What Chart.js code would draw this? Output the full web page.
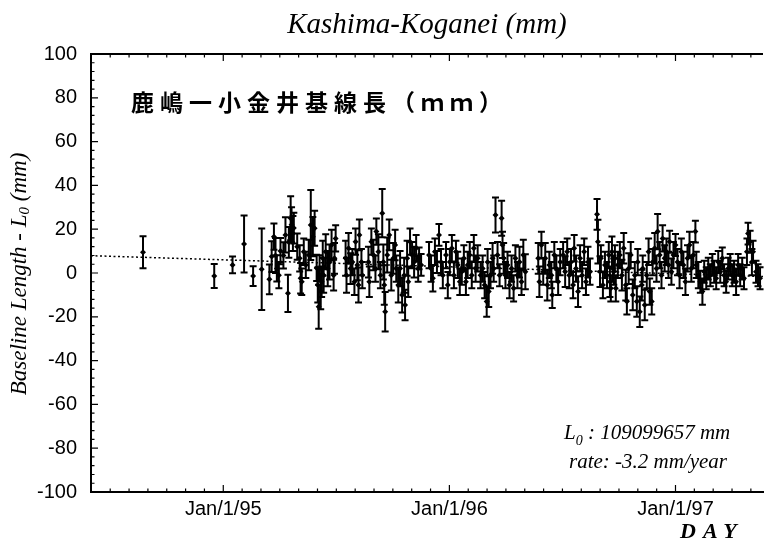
<!DOCTYPE html>
<html>
<head>
<meta charset="utf-8">
<script src="https://cdn.jsdelivr.net/npm/chart.js@4.4.1/dist/chart.umd.min.js"></script>
<style>
  html, body { margin: 0; padding: 0; background: #fff; }
  canvas { display: block; }
</style>
</head>
<body>
<canvas id="grafico" width="767" height="544"></canvas>
<script>
// observation epochs (decimal year), baseline length - L0 (mm), 1-sigma error (mm)
const obsYear = [
  1994.645, 1994.960, 1995.041, 1995.092, 1995.132, 1995.170, 1995.204, 1995.214, 1995.224, 1995.231,
  1995.237, 1995.246, 1995.253, 1995.266, 1995.275, 1995.286, 1995.290, 1995.298, 1995.302, 1995.308,
  1995.312, 1995.327, 1995.338, 1995.342, 1995.347, 1995.356, 1995.365, 1995.378, 1995.387, 1995.396,
  1995.404, 1995.413, 1995.418, 1995.422, 1995.426, 1995.431, 1995.435, 1995.440, 1995.444, 1995.453,
  1995.462, 1995.470, 1995.479, 1995.488, 1995.492, 1995.497, 1995.541, 1995.545, 1995.554, 1995.563,
  1995.571, 1995.580, 1995.585, 1995.593, 1995.598, 1995.602, 1995.611, 1995.615, 1995.642, 1995.646,
  1995.655, 1995.664, 1995.673, 1995.677, 1995.686, 1995.695, 1995.703, 1995.708, 1995.712, 1995.716,
  1995.725, 1995.734, 1995.743, 1995.752, 1995.760, 1995.765, 1995.774, 1995.782, 1995.791, 1995.800,
  1995.804, 1995.813, 1995.818, 1995.826, 1995.835, 1995.844, 1995.853, 1995.862, 1995.866, 1995.875,
  1995.910, 1995.919, 1995.927, 1995.936, 1995.945, 1995.954, 1995.963, 1995.971, 1995.985, 1995.993,
  1996.002, 1996.011, 1996.020, 1996.029, 1996.037, 1996.046, 1996.055, 1996.064, 1996.073, 1996.081,
  1996.090, 1996.099, 1996.108, 1996.116, 1996.125, 1996.138, 1996.147, 1996.156, 1996.165, 1996.169,
  1996.174, 1996.182, 1996.191, 1996.196, 1996.204, 1996.213, 1996.222, 1996.231, 1996.235, 1996.240,
  1996.248, 1996.257, 1996.266, 1996.275, 1996.284, 1996.292, 1996.301, 1996.310, 1996.319, 1996.327,
  1996.336, 1996.393, 1996.398, 1996.407, 1996.415, 1996.424, 1996.433, 1996.442, 1996.451, 1996.455,
  1996.464, 1996.473, 1996.481, 1996.490, 1996.503, 1996.512, 1996.521, 1996.530, 1996.538, 1996.547,
  1996.552, 1996.560, 1996.569, 1996.578, 1996.587, 1996.596, 1996.604, 1996.613, 1996.622, 1996.653,
  1996.657, 1996.666, 1996.670, 1996.679, 1996.688, 1996.697, 1996.705, 1996.710, 1996.714, 1996.719,
  1996.723, 1996.727, 1996.732, 1996.736, 1996.745, 1996.754, 1996.763, 1996.771, 1996.780, 1996.785,
  1996.793, 1996.802, 1996.811, 1996.820, 1996.829, 1996.833, 1996.842, 1996.851, 1996.855, 1996.864,
  1996.873, 1996.881, 1996.886, 1996.895, 1996.899, 1996.908, 1996.916, 1996.921, 1996.930, 1996.938,
  1996.943, 1996.952, 1996.960, 1996.969, 1996.974, 1996.982, 1996.991, 1997.000, 1997.009, 1997.018,
  1997.026, 1997.035, 1997.044, 1997.053, 1997.062, 1997.070, 1997.079, 1997.088, 1997.092, 1997.101,
  1997.110, 1997.119, 1997.127, 1997.136, 1997.145, 1997.154, 1997.163, 1997.171, 1997.180, 1997.189,
  1997.198, 1997.207, 1997.215, 1997.224, 1997.233, 1997.242, 1997.251, 1997.259, 1997.268, 1997.277,
  1997.286, 1997.295, 1997.303, 1997.316, 1997.321, 1997.330, 1997.338, 1997.343, 1997.356, 1997.365,
  1997.374
];
const obsValue = [
  9.5, -1.4, 3.7, 13.2, -1.4, 1.7, -2.9, 7.5, 16.6, 8,
  2.1, -1, 10, 8, 17.4, -9.3, 14, 25, 22, 18,
  20.5, 12, 6.7, -2.4, -4, 9.7, 3.7, 8.2, 21.9, 16.6,
  20.4, 2.3, -5.5, -15.4, 2.1, -8.5, -4, 6.7, -1, 9.7,
  2, 5, 12.8, -1, 6.7, 15.8, 6.7, -1, 11.3, 2,
  5, -4, 14.3, 3.7, -5.5, 17.4, 5, -1, 5, -4,
  14.3, 8.2, 2, 18.9, 9.7, -1, 27.3, 5, -5.5, -17.7,
  8.2, 17.4, -1, 6.7, 12.8, 2, -5.5, 2, -10, -1,
  -14.6, 6.7, -4, 14.3, 8.2, 5, 11.3, 2, 6.7, 3.7,
  8.2, 2, -2.4, 9.7, 5, 17.4, 5, -1, 8.2, -5.5,
  5, 11.3, -1, 9.7, 3.7, -4, 0.6, 6.7, -4, 3.7,
  8.2, -1, 11.3, 2, 6.7, -1, 2, -5.5, -13, 5,
  -8.5, -1, 6.7, 2, 26.5, 8.2, -1, 25, 12.8, 6.7,
  -1, 3.7, -5.5, 2, -7, 6.7, -1, 5, -4, 8.2,
  0.6, 6.7, -4, 12.8, 0.6, 6.7, -5.5, 3.7, -1, -10,
  8.2, 2, -4, 5, 8.2, 0.6, 9.7, -1, 5, -5.5,
  11.3, 2, -8.5, 6.7, -1, 9.7, -4, 5, 0.6, 26.8,
  14.3, 0.6, 6.7, -5.5, 3.7, -1, 8.2, -4, -7, 9.7,
  2, 0.6, 6.7, -7, 3.7, 8.2, -1, 11.3, -5.5, -13,
  2, 8.2, -10, -1, -13, 5, -17.7, -5.5, 2, -14.6,
  -1, 9.7, -8.5, -13, 5, 11.3, 2, 18.9, 8.2, -1,
  15.8, 6.7, 9.7, 3.7, 14.3, 0.6, 8.2, 12.8, 5, -1,
  9.7, 3.7, -4, 6.7, 12.8, 2, 8.2, 18.9, 3.7, -1,
  -4, -8.5, 0.6, -2.4, 2, -1, 3.7, 0.6, -2.4, 5,
  0.6, 6.7, -1, -4, 2, 3.7, -1, 0.6, -4, 3.7,
  -1, 2, -2.4, 9.7, 18, 14.3, 5, 9.7, 0.6, -1,
  -2.4
];
const obsError = [
  7.3, 5.5, 3.8, 13, 4.5, 18.6, 6.8, 7, 6, 8,
  6, 6, 6, 6, 8, 8.5, 7, 10, 8, 8,
  7, 6, 6, 7, 6, 6, 6, 7, 16, 9,
  8, 6, 8, 10, 6, 8, 7, 8, 8, 8,
  8, 8, 7, 7, 7, 6, 8, 8, 7, 7,
  6, 6, 6, 7, 8, 7, 6, 6, 7, 7,
  6, 7, 6, 6, 8, 6, 11, 8, 9, 9,
  8, 7, 7, 7, 7, 6, 8, 8, 8, 8,
  7, 8, 7, 6, 6, 7, 6, 6, 5, 5,
  6, 6, 6, 6, 5, 5, 6, 6, 6, 6,
  6, 6, 6, 5, 6, 6, 6, 6, 6, 6,
  6, 6, 6, 6, 6, 6, 6, 6, 7, 6,
  7, 6, 7, 6, 8, 6, 5, 8, 6, 7,
  6, 6, 6, 6, 6, 6, 6, 7, 6, 7,
  8, 7, 7, 6, 6, 7, 7, 6, 6, 6,
  6, 6, 6, 6, 6, 7, 6, 6, 6, 6,
  6, 6, 7, 6, 6, 6, 6, 7, 6, 7,
  10, 7, 6, 6, 6, 6, 6, 7, 6, 7,
  6, 6, 6, 6, 6, 6, 7, 7, 7, 6,
  7, 6, 7, 6, 7, 6, 7, 7, 6, 7,
  6, 6, 6, 6, 6, 7, 6, 8, 6, 6,
  6, 6, 6, 6, 5, 6, 6, 5, 6, 6,
  6, 6, 6, 6, 6, 6, 6, 5, 6, 6,
  5, 6, 5, 5, 5, 5, 5, 5, 5, 5,
  5, 5, 5, 5, 5, 5, 5, 5, 6, 5,
  5, 5, 5, 6, 5, 5, 6, 5, 5, 5,
  5
];

// linear fit, rate -3.2 mm/year
const fitYear = [1994.415, 1997.387];
const fitValue = [7.9, -1.6];

const yearTicks = [1995, 1996, 1997];
const yearLabels = ['Jan/1/95', 'Jan/1/96', 'Jan/1/97'];
const valueTicks = [-100, -80, -60, -40, -20, 0, 20, 40, 60, 80, 100];

const xMin = 1994.415;
const xMax = 1997.387;

const errorBars = {
    id: 'errorBars',
    afterDatasetsDraw(chart) {
        const ctx = chart.ctx;
        const x = chart.scales.x;
        const y = chart.scales.y;
        ctx.save();
        ctx.strokeStyle = '#000';
        ctx.lineWidth = 2;
        ctx.beginPath();
        for (let i = 0; i < obsYear.length; i++) {
            const px = x.getPixelForValue(obsYear[i]);
            const top = y.getPixelForValue(obsValue[i] + obsError[i]);
            const bot = y.getPixelForValue(obsValue[i] - obsError[i]);
            ctx.moveTo(px, top);
            ctx.lineTo(px, bot);
            ctx.moveTo(px - 3.5, top);
            ctx.lineTo(px + 3.5, top);
            ctx.moveTo(px - 3.5, bot);
            ctx.lineTo(px + 3.5, bot);
        }
        ctx.stroke();
        ctx.restore();
    }
};

// frame, inward ticks and the free texts
const frameAndTexts = {
    id: 'frameAndTexts',
    afterDraw(chart) {
        const ctx = chart.ctx;
        const area = chart.chartArea;
        const x = chart.scales.x;
        const y = chart.scales.y;
        ctx.save();
        ctx.strokeStyle = '#000';
        ctx.fillStyle = '#000';

        ctx.lineWidth = 2;
        ctx.beginPath();
        ctx.moveTo(area.left, area.top);
        ctx.lineTo(area.right, area.top);
        ctx.stroke();

        ctx.lineWidth = 1.2;
        ctx.beginPath();
        for (let yr = 1994; yr <= 1997; yr++) {
            for (let m = 0; m < 12; m++) {
                const v = yr + m / 12;
                if (v < xMin || v > xMax) continue;
                const px = x.getPixelForValue(v);
                const len = m === 0 ? 7 : 3.5;
                ctx.moveTo(px, area.bottom);
                ctx.lineTo(px, area.bottom - len);
                ctx.moveTo(px, area.top);
                ctx.lineTo(px, area.top + len);
            }
        }
        for (let v = -100; v <= 100; v += 4) {
            const py = y.getPixelForValue(v);
            const len = v % 20 === 0 ? 7 : 3.5;
            ctx.moveTo(area.left, py);
            ctx.lineTo(area.left + len, py);
        }
        ctx.stroke();

        // japanese caption
        ctx.font = 'bold 23px "Noto Sans CJK JP"';
        ctx.letterSpacing = '6px';
        ctx.textAlign = 'left';
        ctx.textBaseline = 'alphabetic';
        ctx.fillText('鹿嶋一小金井基線長（ｍｍ）', 131, 111);
        ctx.letterSpacing = '0px';

        // L0 and rate
        const big = 'italic 21px "Liberation Serif"';
        const small = 'italic 14px "Liberation Serif"';
        let cx = 564;
        ctx.font = big;
        ctx.fillText('L', cx, 439);
        cx += ctx.measureText('L').width;
        ctx.font = small;
        ctx.fillText('0', cx, 445);
        cx += ctx.measureText('0').width;
        ctx.font = big;
        ctx.fillText(' : 109099657 mm', cx, 439);
        ctx.fillText('rate: -3.2 mm/year', 569, 468);

        // DAY
        ctx.font = 'bold italic 22px "Liberation Serif"';
        ctx.letterSpacing = '7px';
        ctx.fillText('DAY', 680, 538);
        ctx.letterSpacing = '0px';

        // y axis title with subscript
        ctx.translate(20, 274);
        ctx.rotate(-Math.PI / 2);
        const parts = [
            ['Baseline Length - L', 'italic 23px "Liberation Serif"', 0],
            ['0', 'italic 15px "Liberation Serif"', 5],
            [' (mm)', 'italic 23px "Liberation Serif"', 0]
        ];
        let total = 0;
        parts.forEach(p => { ctx.font = p[1]; total += ctx.measureText(p[0]).width; });
        let tx = -total / 2;
        ctx.textBaseline = 'middle';
        parts.forEach(p => {
            ctx.font = p[1];
            ctx.fillText(p[0], tx, p[2]);
            tx += ctx.measureText(p[0]).width;
        });
        ctx.restore();
    }
};

function crearGrafico() {
    const ctx = document.getElementById('grafico').getContext('2d');
    new Chart(ctx, {
        type: 'scatter',
        data: {
            datasets: [
                {
                    label: 'baseline',
                    data: obsYear.map((v, i) => ({ x: v, y: obsValue[i] })),
                    backgroundColor: '#000',
                    borderColor: '#000',
                    borderWidth: 0,
                    pointRadius: 3,
                    pointStyle: 'rectRot',
                    order: 1
                },
                {
                    type: 'line',
                    label: 'fit',
                    data: fitYear.map((v, i) => ({ x: v, y: fitValue[i] })),
                    borderColor: '#000',
                    borderWidth: 1.5,
                    borderDash: [2, 2.5],
                    pointRadius: 0,
                    fill: false,
                    order: 2
                }
            ]
        },
        options: {
            responsive: false,
            devicePixelRatio: 1,
            animation: false,
            layout: { padding: { left: 0, right: 0, top: 0, bottom: 0 } },
            scales: {
                x: {
                    type: 'linear',
                    min: xMin,
                    max: xMax,
                    afterBuildTicks: scale => { scale.ticks = yearTicks.map(v => ({ value: v })); },
                    afterFit: scale => { scale.height = 52; },
                    grid: { display: false, drawTicks: false },
                    border: { display: true, color: '#000', width: 2 },
                    ticks: {
                        autoSkip: false,
                        maxRotation: 0,
                        padding: 5,
                        color: '#000',
                        font: { family: 'Liberation Sans', size: 20 },
                        callback: value => yearLabels[yearTicks.indexOf(value)]
                    }
                },
                y: {
                    min: -100,
                    max: 100,
                    afterBuildTicks: scale => { scale.ticks = valueTicks.map(v => ({ value: v })); },
                    afterFit: scale => { scale.width = 91; },
                    grid: { display: false, drawTicks: false },
                    border: { display: true, color: '#000', width: 2 },
                    ticks: {
                        padding: 14,
                        color: '#000',
                        font: { family: 'Liberation Sans', size: 20 },
                        callback: value => String(value)
                    }
                }
            },
            plugins: {
                legend: { display: false },
                tooltip: { enabled: false },
                title: {
                    display: true,
                    text: 'Kashima-Koganei (mm)',
                    fullSize: false,
                    color: '#000',
                    font: { family: 'Liberation Serif', style: 'italic', weight: 'normal', size: 29, lineHeight: 1.2 },
                    padding: { top: 8, bottom: 11.2 }
                }
            }
        },
        plugins: [errorBars, frameAndTexts]
    });
}

crearGrafico();
</script>
</body>
</html>
